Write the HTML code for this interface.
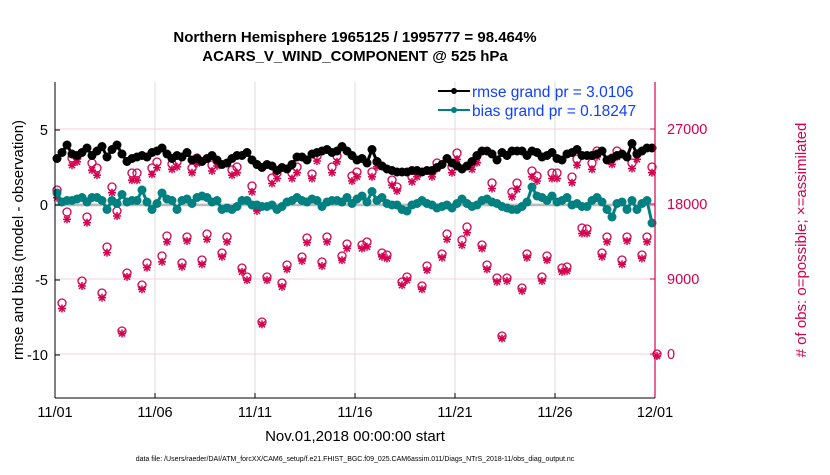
<!DOCTYPE html>
<html><head><meta charset="utf-8"><style>
body{margin:0;background:#fff;width:830px;height:470px;overflow:hidden;font-family:"Liberation Sans",Arial,sans-serif}
</style></head><body>
<svg id="chart" width="830" height="470" xmlns="http://www.w3.org/2000/svg" font-family="Liberation Sans, Arial, sans-serif">
<g id="grid"></g>
<g id="marks"></g>
<g id="axes"></g>
<text x="355" y="42" text-anchor="middle" font-size="15" font-weight="bold">Northern Hemisphere 1965125 / 1995777 = 98.464%</text>
<text x="355" y="61" text-anchor="middle" font-size="15" font-weight="bold">ACARS_V_WIND_COMPONENT @ 525 hPa</text>
<g>
<g><line x1="438" y1="91" x2="470" y2="91" stroke="#000" stroke-width="2"/><circle cx="454" cy="91" r="3" fill="#000"/><text x="472" y="97" font-size="15.5" fill="#1040ff">rmse grand pr = 3.0106</text></g>
<g><line x1="438" y1="110" x2="470" y2="110" stroke="#008080" stroke-width="2"/><circle cx="454" cy="110" r="3" fill="#008080"/><text x="472" y="116" font-size="15.5" fill="#1040ff">bias grand pr = 0.18247</text></g>
</g>
<text transform="translate(23,240) rotate(-90)" text-anchor="middle" font-size="15">rmse and bias (model - observation)</text>
<text transform="translate(806,240) rotate(-90)" text-anchor="middle" font-size="15" fill="#d6004f"># of obs: o=possible; ×=assimilated</text>
<text x="355" y="441" text-anchor="middle" font-size="15">Nov.01,2018 00:00:00 start</text>
<text x="355" y="461" text-anchor="middle" font-size="7">data file: /Users/raeder/DAI/ATM_forcXX/CAM6_setup/f.e21.FHIST_BGC.f09_025.CAM6assim.011/Diags_NTrS_2018-11/obs_diag_output.nc</text>
</svg>
<script>
const xTicks=[0,5,10,15,20,25,30];
const xTickLabels=["11/01","11/06","11/11","11/16","11/21","11/26","12/01"];
const leftTicks=[-10,-5,0,5];
const rightTicks=[0,9000,18000,27000];
const rmse=[3.1,3.5,4.0,3.4,3.3,3.5,3.8,3.3,3.6,3.9,3.2,3.7,4.0,3.4,2.9,3.1,3.2,3.3,3.2,3.5,3.6,3.8,3.4,3.1,3.3,3.2,3.5,3.0,3.1,2.9,3.1,3.3,3.0,2.7,2.8,3.1,3.3,3.3,3.5,3.0,2.7,2.5,2.7,2.6,2.3,2.5,2.4,2.7,3.2,3.2,3.0,3.4,3.5,3.6,3.7,3.5,3.6,3.9,3.6,3.3,3.0,3.1,2.8,3.7,2.9,2.6,2.4,2.3,2.2,2.2,2.2,2.3,2.3,2.2,2.3,2.3,2.5,2.7,3.1,2.8,2.6,2.4,2.6,2.9,3.3,3.6,3.6,3.4,3.0,3.5,3.3,3.6,3.6,3.6,3.3,3.6,3.5,3.2,3.3,3.5,3.1,3.0,3.4,3.5,3.7,3.3,3.3,3.3,3.4,3.6,3.0,3.1,3.3,3.4,3.2,4.1,3.4,3.6,3.8,3.8];
const bias=[0.8,0.2,0.3,0.3,0.4,0.5,0.2,0.5,0.5,0.3,-0.3,0.3,0.1,0.7,0.2,0.3,0.3,1.0,0.2,-0.3,0.1,0.8,0.4,0.3,-0.3,0.3,0.4,0.1,0.5,0.6,0.5,0.2,0.3,-0.3,-0.2,-0.3,-0.1,0.3,0.3,0.0,0.0,-0.1,-0.1,0.0,-0.3,-0.1,0.2,0.3,0.5,0.3,0.2,0.4,0.3,-0.1,0.2,0.3,0.3,0.2,0.5,0.1,0.4,0.6,0.2,0.9,0.3,0.5,0.1,0.0,0.0,-0.3,-0.4,0.0,0.1,0.3,0.1,0.0,-0.2,-0.1,0.0,-0.2,0.1,0.4,0.1,-0.1,0.0,0.3,0.4,0.2,0.1,-0.1,-0.2,-0.3,-0.3,-0.1,0.2,1.2,0.6,0.5,0.3,0.6,0.2,0.3,0.5,0.0,0.1,-0.1,-0.1,0.3,0.5,0.2,-0.3,-0.8,0.1,0.2,-0.3,0.3,-0.3,0.1,0.3,-1.2];
const possible=[19680,6120,17040,23520,23640,8760,16440,22920,22320,7320,12840,20040,17160,2760,9720,21720,21720,8280,10920,22320,23040,11760,14160,22800,23040,10920,14040,22320,23520,11280,14400,22680,23160,12120,14040,22080,22440,10320,9240,20160,17640,3840,9240,21120,21720,8520,10680,21720,22440,11640,13920,21600,23760,11040,14040,22440,23760,11760,13200,21360,21840,13080,13440,21840,23040,12120,11880,20880,20040,8640,9240,21240,21840,8160,10560,21840,22920,12000,14400,22440,24120,13680,15240,22920,23760,13080,10680,20520,9120,2160,9120,19440,20520,7920,12000,21960,21360,9240,11760,21720,21720,10320,10440,21240,23400,15120,15000,22920,24360,12120,14040,23520,24360,11280,14040,22920,24000,11880,14040,22440,0];
const assimilated=[19000,5700,16400,22900,23300,8400,16000,22300,21700,7000,12400,19600,16800,2700,9500,21100,21100,8000,10600,21800,22600,11300,13700,22400,22700,10700,13800,22000,23100,11000,14000,22200,22800,11900,13700,21700,22000,10100,9100,19700,17400,3800,9100,20700,21300,8300,10400,21300,22000,11400,13600,21300,23400,10800,13700,22000,23300,11500,12900,21000,21500,12900,13100,21500,22700,11900,11700,20500,19800,8500,9100,20900,21500,8000,10300,21500,22500,11800,14000,22000,23600,13300,14800,22400,23200,12900,10400,20100,8900,2100,9000,19100,20000,7800,11800,21500,21000,9000,11500,21300,21300,10100,10200,20800,22900,14700,14700,22400,23900,11900,13700,23000,23900,11000,13800,22500,23600,11700,13700,22000,0];

const X0=55,X1=655,T=82,B=398;
const xs=d=>X0+(d/30)*(X1-X0);
const yL=v=>205-v*15;
const yR=c=>354-c/120;
const tOf=i=>0.1+0.25*i;
const NS="http://www.w3.org/2000/svg";
function mk(tag,attrs,parent){const e=document.createElementNS(NS,tag);for(const k in attrs)e.setAttribute(k,attrs[k]);parent.appendChild(e);return e;}
const grid=document.getElementById('grid'),marks=document.getElementById('marks'),axes=document.getElementById('axes');

xTicks.forEach((d,i)=>{
  const l=mk('line',{x1:xs(d),y1:T,x2:xs(d),y2:B,stroke:'#dcdcdc','stroke-width':1},grid);
  
  
  const t=mk('text',{x:xs(d),y:417,'text-anchor':'middle','font-size':14.5},axes);
  t.textContent=xTickLabels[i];
  
  
  const tk=mk('line',{x1:xs(d),y1:B,x2:xs(d),y2:B-5,stroke:'#000'},axes);
  
  
});
rightTicks.forEach(c=>{
  const l=mk('line',{x1:X0,y1:yR(c),x2:X1,y2:yR(c),stroke:'#f5d0dc','stroke-width':1},grid);
  
  
  const t=mk('text',{x:667,y:yR(c)+5,'font-size':14.5,fill:'#d6004f'},axes);
  t.textContent=c;
  
  
  const tk=mk('line',{x1:X1-5,y1:yR(c),x2:X1,y2:yR(c),stroke:'#d6004f'},axes);
  
  
});
leftTicks.forEach(v=>{
  const t=mk('text',{x:48,y:yL(v)+5,'text-anchor':'end','font-size':14.5},axes);
  t.textContent=v;
  
  
  const tk=mk('line',{x1:X0,y1:yL(v),x2:X0+5,y2:yL(v),stroke:'#000'},axes);
  
  
});
const zl=mk('line',{x1:X0,y1:yL(0),x2:X1,y2:yL(0),stroke:'#bbb','stroke-width':2.5},grid);



possible.forEach((c,i)=>{
  const x=xs(tOf(i));
  const ci=mk('circle',{cx:x,cy:yR(c),r:4,fill:'none',stroke:'#d6004f','stroke-width':1.3},marks);
  
  
});
assimilated.forEach((c,i)=>{
  const x=xs(tOf(i)),y=yR(c)+2;
  const g=mk('g',{stroke:'#d6004f','stroke-width':1.5},marks);
  
  
  mk('line',{x1:x-4,y1:y,x2:x+4,y2:y},g);
  mk('line',{x1:x,y1:y-4,x2:x,y2:y+4},g);
  mk('line',{x1:x-3,y1:y-3,x2:x+3,y2:y+3},g);
  mk('line',{x1:x-3,y1:y+3,x2:x+3,y2:y-3},g);
});
function series(arr,color,name,r){
  const pts=arr.map((v,i)=>xs(tOf(i))+','+yL(v)).join(' ');
  const pl=mk('polyline',{points:pts,fill:'none',stroke:color,'stroke-width':3},marks);
  
  
  arr.forEach((v,i)=>{
    const c=mk('circle',{cx:xs(tOf(i)),cy:yL(v),r:r,fill:color},marks);
    
    
  });
}
series(bias,'#008080','bias',4.5);
series(rmse,'#000000','rmse',4.5);

const la=mk('line',{x1:X0,y1:T,x2:X0,y2:B,stroke:'#000','stroke-width':1},axes);


const ra=mk('line',{x1:X1,y1:T,x2:X1,y2:B,stroke:'#d6004f','stroke-width':1.2},axes);


const ba=mk('line',{x1:X0,y1:B,x2:X1,y2:B,stroke:'#000','stroke-width':1},axes);


</script>
</body></html>
